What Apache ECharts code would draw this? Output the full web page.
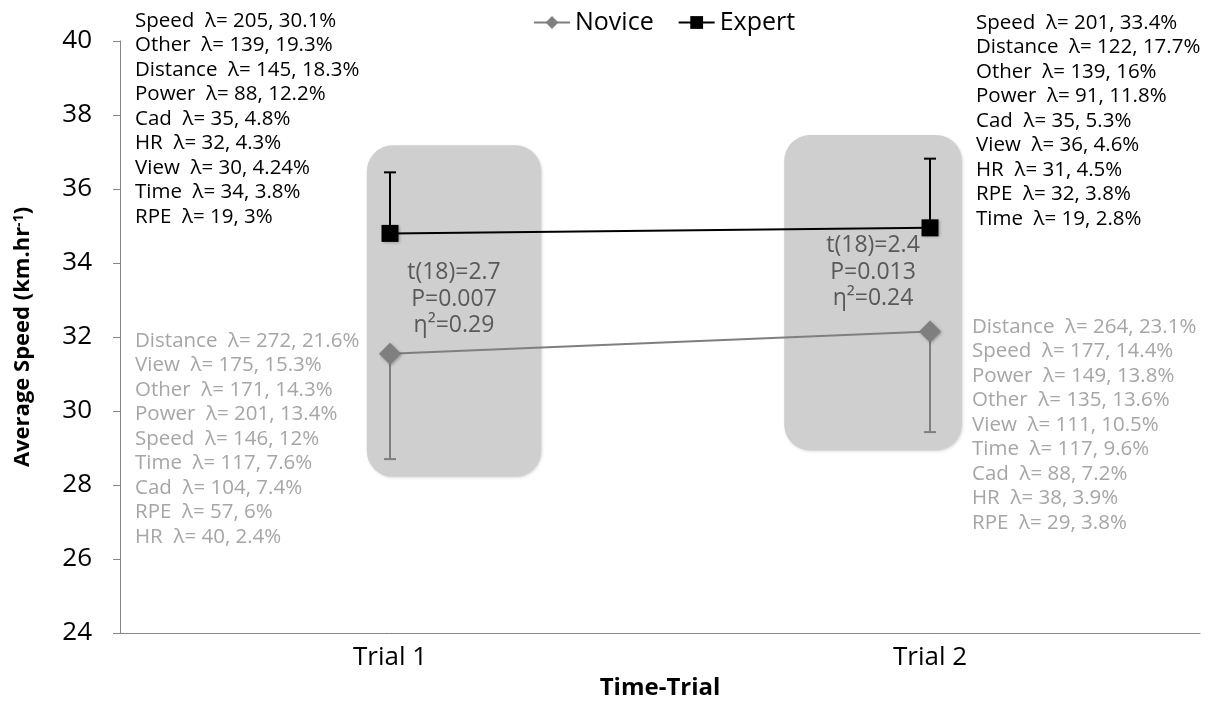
<!DOCTYPE html>
<html>
<head>
<meta charset="utf-8">
<script src="https://cdn.jsdelivr.net/npm/echarts@6/dist/echarts.min.js"></script>
<style>
  html, body { margin: 0; padding: 0; background: #fff; }
  #chart { width: 1225px; height: 708px; }
</style>
</head>
<body>
<div id="chart"></div>
<script>
const trials = ['Trial 1', 'Trial 2'];
const expertMean = [34.8, 34.95];
const expertSD = [1.65, 1.87];
const noviceMean = [31.55, 32.15];
const noviceSD = [2.85, 2.72];

// shaded boxes: [trial index, low, high, left offset, right offset] (offsets in band widths)
const boxes = [
  [0, 28.22, 37.18, -0.043, 0.28],
  [1, 28.93, 37.46, -0.27, 0.059],
];
const statText = [
  't(18)=2.7\nP=0.007\nη²=0.29',
  't(18)=2.4\nP=0.013\nη²=0.24',
];
const statY = [33.02, 33.75];

const expertT1 = ['Speed  λ= 205, 30.1%', 'Other  λ= 139, 19.3%', 'Distance  λ= 145, 18.3%',
  'Power  λ= 88, 12.2%', 'Cad  λ= 35, 4.8%', 'HR  λ= 32, 4.3%', 'View  λ= 30, 4.24%',
  'Time  λ= 34, 3.8%', 'RPE  λ= 19, 3%'];
const expertT2 = ['Speed  λ= 201, 33.4%', 'Distance  λ= 122, 17.7%', 'Other  λ= 139, 16%',
  'Power  λ= 91, 11.8%', 'Cad  λ= 35, 5.3%', 'View  λ= 36, 4.6%', 'HR  λ= 31, 4.5%',
  'RPE  λ= 32, 3.8%', 'Time  λ= 19, 2.8%'];
const noviceT1 = ['Distance  λ= 272, 21.6%', 'View  λ= 175, 15.3%', 'Other  λ= 171, 14.3%',
  'Power  λ= 201, 13.4%', 'Speed  λ= 146, 12%', 'Time  λ= 117, 7.6%', 'Cad  λ= 104, 7.4%',
  'RPE  λ= 57, 6%', 'HR  λ= 40, 2.4%'];
const noviceT2 = ['Distance  λ= 264, 23.1%', 'Speed  λ= 177, 14.4%', 'Power  λ= 149, 13.8%',
  'Other  λ= 135, 13.6%', 'View  λ= 111, 10.5%', 'Time  λ= 117, 9.6%', 'Cad  λ= 88, 7.2%',
  'HR  λ= 38, 3.9%', 'RPE  λ= 29, 3.8%'];

const FONT = '"Open Sans"';
const chart = echarts.init(document.getElementById('chart'));

function errorBars(means, sds, dir, color) {
  return {
    type: 'custom',
    z: 3,
    silent: true,
    data: means.map((m, i) => [i, m, sds[i]]),
    renderItem: (params, api) => {
      const x = api.value(0);
      const m = api.value(1);
      const p0 = api.coord([x, m]);
      const p1 = api.coord([x, m + dir * api.value(2)]);
      return {
        type: 'group',
        children: [
          { type: 'line', shape: { x1: p0[0], y1: p0[1], x2: p1[0], y2: p1[1] }, style: { stroke: color, lineWidth: 2 } },
          { type: 'line', shape: { x1: p1[0] - 6, y1: p1[1], x2: p1[0] + 6, y2: p1[1] }, style: { stroke: color, lineWidth: 2 } },
        ],
      };
    },
  };
}

function textBlock(lines, x, yFirst, color) {
  return {
    type: 'text',
    left: x,
    top: yFirst - 12.25,
    style: {
      text: lines.join('\n'),
      fill: color,
      font: '20.5px ' + FONT,
      lineHeight: 24.5,
    },
  };
}

chart.setOption({
  animation: false,
  grid: { left: 120, right: 25, top: 41, bottom: 75 },
  legend: {
    top: 5,
    left: 528,
    itemWidth: 36,
    itemHeight: 16,
    itemGap: 24,
    textStyle: { fontFamily: FONT, fontSize: 25, color: '#000' },
    data: ['Novice', 'Expert'],
  },
  xAxis: {
    type: 'category',
    data: trials,
    name: 'Time-Trial',
    nameLocation: 'middle',
    nameGap: 40,
    nameTextStyle: { fontFamily: FONT, fontSize: 24, fontWeight: 'bold', color: '#000' },
    axisLine: { lineStyle: { color: '#868686' } },
    axisTick: { length: 7, lineStyle: { color: '#868686' } },
    axisLabel: { margin: 12, fontFamily: FONT, fontSize: 26, color: '#000' },
  },
  yAxis: {
    type: 'value',
    min: 24,
    max: 40,
    interval: 2,
    name: 'Average Speed (km.hr{sup|-1})',
    nameLocation: 'middle',
    nameGap: 86,
    nameTextStyle: {
      fontFamily: FONT, fontSize: 22, fontWeight: 'bold', color: '#000',
      rich: { sup: { fontFamily: FONT, fontSize: 14, fontWeight: 'bold', verticalAlign: 'top', padding: [0, 0, 8, 0] } },
    },
    axisLine: { show: true, lineStyle: { color: '#868686' } },
    axisTick: { show: true, length: 7, lineStyle: { color: '#868686' } },
    splitLine: { show: false },
    axisLabel: { margin: 28, fontFamily: FONT, fontSize: 26, color: '#000' },
  },
  series: [
    {
      type: 'custom',
      z: 1,
      silent: true,
      data: boxes.map((b, i) => b.concat([statY[i]])),
      renderItem: (params, api) => {
        const idx = api.value(0);
        const top = api.coord([idx, api.value(2)]);
        const bot = api.coord([idx, api.value(1)]);
        const band = api.size([1, 0])[0];
        const x0 = top[0] + api.value(3) * band;
        const x1 = top[0] + api.value(4) * band;
        const ty = api.coord([idx, api.value(5)])[1];
        return {
          type: 'group',
          children: [
            {
              type: 'rect',
              shape: { x: x0, y: top[1], width: x1 - x0, height: bot[1] - top[1], r: 26 },
              style: { fill: '#cfcfcf', shadowBlur: 3, shadowColor: 'rgba(0,0,0,0.15)', shadowOffsetX: 1, shadowOffsetY: 1 },
            },
            {
              type: 'text',
              x: (x0 + x1) / 2,
              y: ty,
              style: {
                text: statText[params.dataIndex],
                align: 'center',
                verticalAlign: 'middle',
                fill: '#595959',
                font: '23px ' + FONT,
                lineHeight: 26.5,
              },
            },
          ],
        };
      },
    },
    errorBars(expertMean, expertSD, 1, '#000'),
    errorBars(noviceMean, noviceSD, -1, '#7f7f7f'),
    {
      name: 'Novice',
      type: 'line',
      z: 4,
      data: noviceMean,
      symbol: 'diamond',
      symbolSize: 22,
      itemStyle: { color: '#7f7f7f', shadowBlur: 3, shadowColor: 'rgba(0,0,0,0.3)', shadowOffsetX: 1, shadowOffsetY: 1 },
      lineStyle: { color: '#7f7f7f', width: 2 },
    },
    {
      name: 'Expert',
      type: 'line',
      z: 5,
      data: expertMean,
      symbol: 'rect',
      symbolSize: 17,
      itemStyle: { color: '#000', shadowBlur: 3, shadowColor: 'rgba(0,0,0,0.3)', shadowOffsetX: 1, shadowOffsetY: 1 },
      lineStyle: { color: '#000', width: 2 },
    },
  ],
  graphic: [
    textBlock(expertT1, 135, 21, '#000'),
    textBlock(expertT2, 976, 23, '#000'),
    textBlock(noviceT1, 135, 341, '#a6a6a6'),
    textBlock(noviceT2, 972, 327, '#a6a6a6'),
  ],
});
</script>
</body>
</html>
